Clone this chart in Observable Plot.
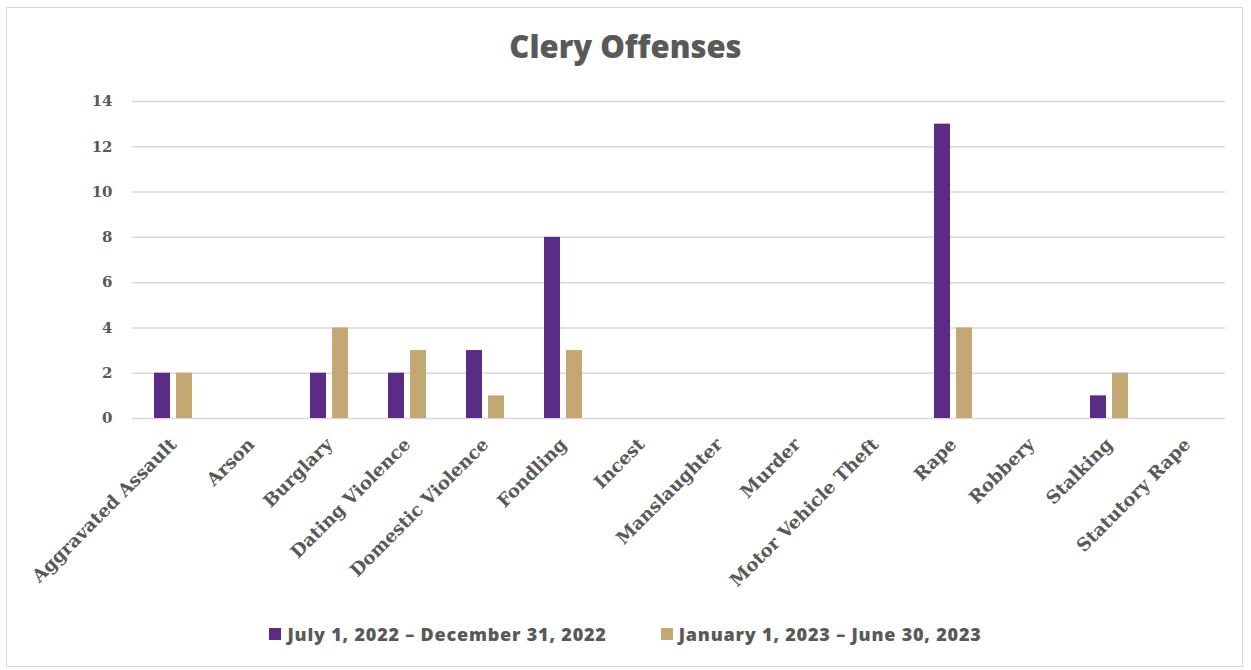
<!DOCTYPE html>
<html>
<head>
<meta charset="utf-8">
<script src="https://cdn.jsdelivr.net/npm/d3@7"></script>
<script src="https://cdn.jsdelivr.net/npm/@observablehq/plot@0.6"></script>
<style>
  html, body { margin: 0; padding: 0; background: #fff; }
  #frame { position: absolute; left: 6px; top: 7px; width: 1237px; height: 660px; border: 1px solid #d9d9d9; box-sizing: border-box; }
  #title { position: absolute; left: 0; top: 25px; width: 1251px; text-align: center; font-family: "Open Sans", sans-serif; font-weight: 800; font-size: 31px; color: #595959; }
  #chart { position: absolute; left: 0; top: 80px; }
  #legend { position: absolute; left: 0; top: 622px; width: 1251px; display: flex; justify-content: center; gap: 54px; font-family: "Open Sans", sans-serif; font-weight: 800; font-size: 18px; letter-spacing: 0.8px; color: #595959; }
  .item { display: flex; align-items: center; gap: 6px; }
  .sw { width: 12px; height: 12px; display: inline-block; }
</style>
</head>
<body>
<div id="frame"></div>
<div id="title">Clery Offenses</div>
<div id="chart"></div>
<div id="legend"></div>
<script>
const categories = ["Aggravated Assault", "Arson", "Burglary", "Dating Violence", "Domestic Violence", "Fondling", "Incest", "Manslaughter", "Murder", "Motor Vehicle Theft", "Rape", "Robbery", "Stalking", "Statutory Rape"];
const seriesNames = ["July 1, 2022 – December 31, 2022", "January 1, 2023 – June 30, 2023"];
const period1 = [2, 0, 2, 2, 3, 8, 0, 0, 0, 0, 13, 0, 1, 0];
const period2 = [2, 0, 4, 3, 1, 3, 0, 0, 0, 0, 4, 0, 2, 0];
const yTicks = [0, 2, 4, 6, 8, 10, 12, 14];
const colors = ["#5b2c86", "#c4a873"];

const data1 = categories.map((c, i) => ({category: c, value: period1[i], series: seriesNames[0]}));
const data2 = categories.map((c, i) => ({category: c, value: period2[i], series: seriesNames[1]}));

const textColor = "#595959";
const chart = Plot.plot({
  width: 1251,
  height: 520,
  marginLeft: 132,
  marginRight: 26,
  marginTop: 21,
  marginBottom: 182,
  style: {fontFamily: "'DejaVu Serif', serif", background: "transparent"},
  x: {domain: categories, padding: 0},
  y: {domain: [0, 14]},
  marks: [
    Plot.ruleY(yTicks, {stroke: "#d9d9d9", strokeWidth: 1.5}),
    Plot.barY(data1, {x: "category", y: "value", fill: colors[0], insetLeft: 21, insetRight: 41}),
    Plot.barY(data2, {x: "category", y: "value", fill: colors[1], insetLeft: 43, insetRight: 19}),
    Plot.axisY({ticks: yTicks, tickSize: 0, tickPadding: 20, fontSize: 15, fontWeight: "bold", fill: textColor, label: null}),
    Plot.axisX({tickSize: 0, tickPadding: 23, tickRotate: -45, fontSize: 18, fontWeight: "bold", fill: textColor, label: null, dx: 1})
  ]
});
document.getElementById("chart").appendChild(chart);

const legend = document.getElementById("legend");
seriesNames.forEach((name, i) => {
  const item = document.createElement("div");
  item.className = "item";
  const sw = document.createElement("span");
  sw.className = "sw";
  sw.style.background = colors[i];
  const t = document.createElement("span");
  t.textContent = name;
  item.appendChild(sw);
  item.appendChild(t);
  legend.appendChild(item);
});
</script>
</body>
</html>
